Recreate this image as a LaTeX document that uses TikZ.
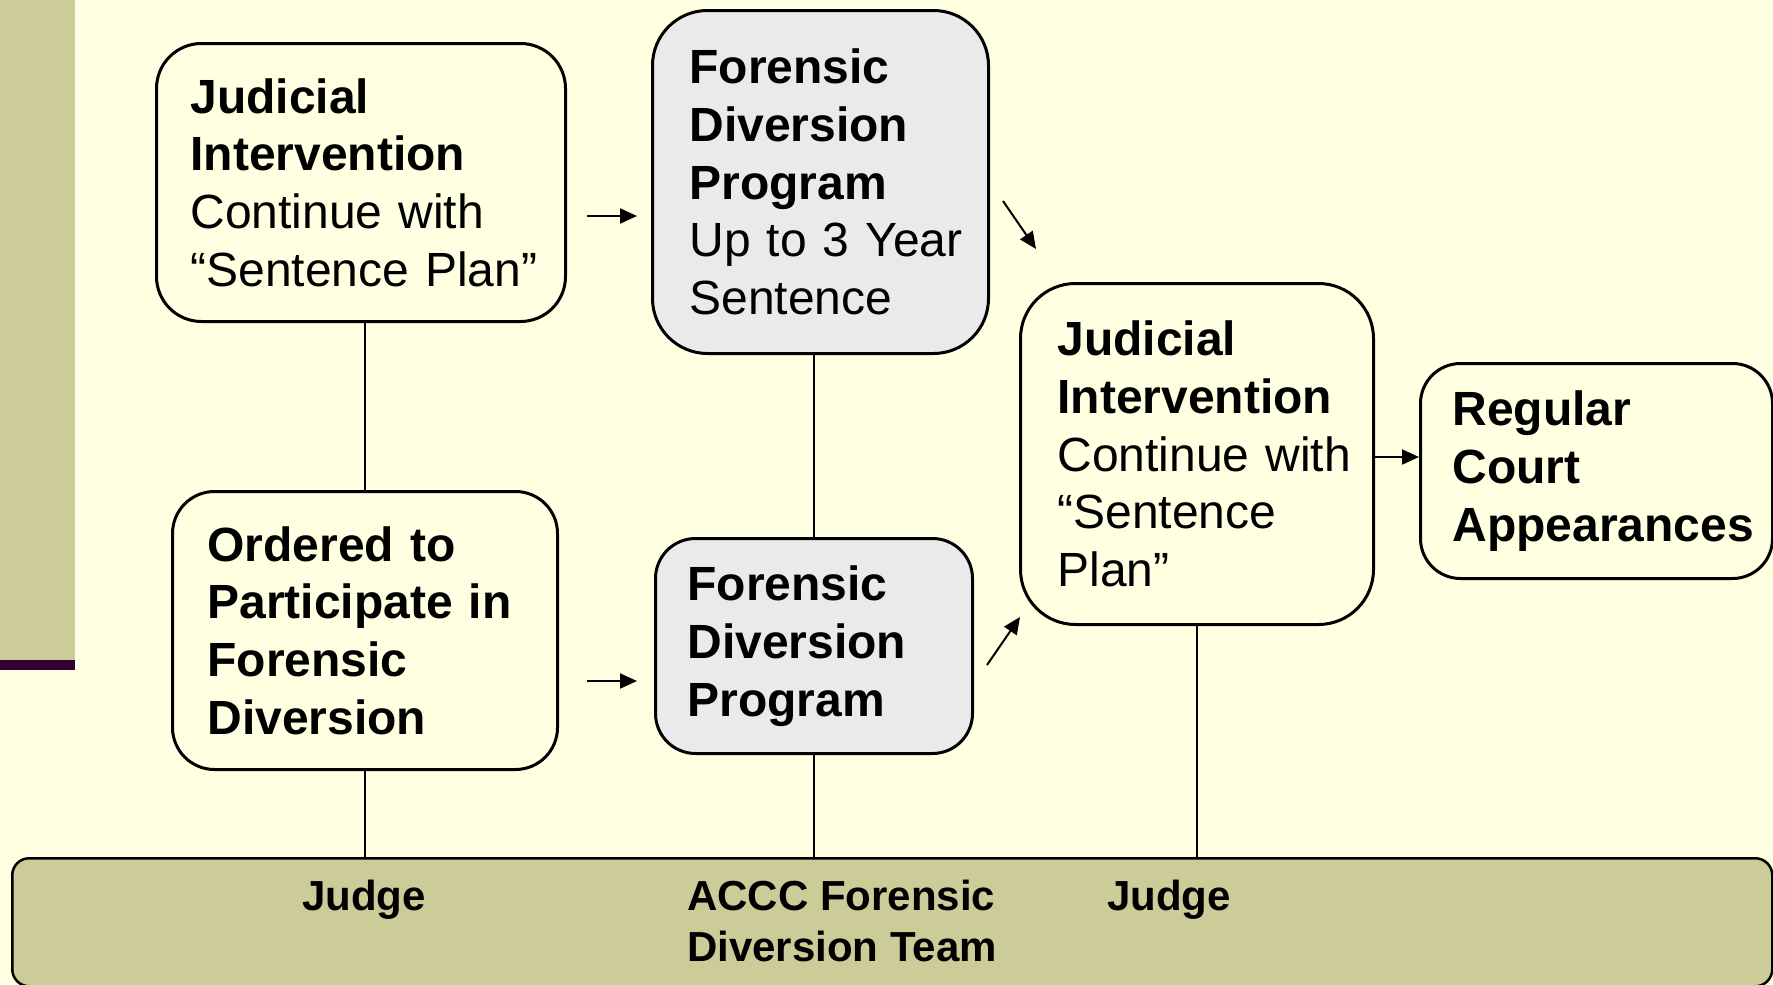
\documentclass[tikz,border=0pt]{standalone}
\usepackage{fontspec}
\setmainfont{Liberation Sans}
\usetikzlibrary{arrows.meta}
\definecolor{bgyellow}{HTML}{FFFFE1}
\definecolor{olivefill}{HTML}{CCCC99}
\definecolor{plumbar}{HTML}{330033}
\definecolor{boxgray}{HTML}{EAEAEA}
\begin{document}
\begin{tikzpicture}[x=1pt,y=-1pt,
  fbox/.style={draw=black,line width=3pt,align=left,inner ysep=0pt,anchor=north west,
    font=\fontsize{48}{57.7}\selectfont},
  conn/.style={line width=2pt},
  arr/.style={line width=2pt,-{Triangle[length=17pt,width=15pt]}},
  barlabel/.style={anchor=base west,inner sep=0pt,align=left,
    font=\fontsize{42}{51}\selectfont\bfseries}]
\useasboundingbox (0,0) rectangle (1773,985);
\fill[bgyellow] (0,0) rectangle (1773,985);
\fill[olivefill] (0,0) rectangle (75,661);
\fill[plumbar] (0,660) rectangle (75,670);

% boxes
\node[fbox,fill=bgyellow,rounded corners=45pt,inner xsep=34pt,
  minimum width=409pt,minimum height=278pt,text width=341pt] (A) at (155,42)
  {\textbf{Judicial}\\\textbf{Intervention}\\Continue~with\\“Sentence~Plan”};
\node[fbox,fill=boxgray,rounded corners=55pt,inner xsep=37pt,
  minimum width=336pt,minimum height=343pt,text width=262pt] (B) at (651,9)
  {\textbf{Forensic}\\\textbf{Diversion}\\\textbf{Program}\\Up~to~3~Year\\Sentence};
\node[fbox,fill=bgyellow,rounded corners=42pt,inner xsep=35pt,
  minimum width=385pt,minimum height=278pt,text width=315pt] (C) at (171,490)
  {\textbf{Ordered~to}\\\textbf{Participate~in}\\\textbf{Forensic}\\\textbf{Diversion}};
\node[fbox,fill=boxgray,rounded corners=40pt,inner xsep=32pt,
  minimum width=317pt,minimum height=215pt,text width=253pt] (D) at (654,537)
  {\textbf{Forensic}\\\textbf{Diversion}\\\textbf{Program}};
\node[fbox,fill=bgyellow,rounded corners=55pt,inner xsep=37pt,
  minimum width=353pt,minimum height=341pt,text width=279pt] (E) at (1019,282)
  {\textbf{Judicial}\\\textbf{Intervention}\\Continue~with\\“Sentence\\Plan”};
\node[fbox,fill=bgyellow,rounded corners=40pt,inner xsep=32pt,
  minimum width=352pt,minimum height=215pt,text width=288pt] (F) at (1419,362)
  {\textbf{Regular}\\\textbf{Court}\\\textbf{Appearances}};

% bottom bar
\node[draw=black,line width=2.5pt,fill=olivefill,rounded corners=17pt,anchor=north west,
  minimum width=1760pt,minimum height=128pt,inner sep=0pt] (bar) at (11,857) {};
\node[barlabel] (j1) at (302,910) {Judge};
\node[barlabel] (team) at (687,961) {ACCC Forensic\\Diversion Team};
\node[barlabel] (j2) at (1107,910) {Judge};

% vertical connectors
\draw[conn] (C.north) -- (C.north |- A.south);
\draw[conn] (C.south) -- (C.south |- bar.north);
\draw[conn] (D.north) -- (D.north |- B.south);
\draw[conn] (D.south) -- (D.south |- bar.north);
\draw[conn] (E.south) -- (E.south |- bar.north);

% arrows
\coordinate (ab1) at (587,216); \coordinate (ab2) at (637,216);
\coordinate (cd1) at (587,681); \coordinate (cd2) at (637,681);
\coordinate (be1) at (1003,201); \coordinate (be2) at (1036,249);
\coordinate (de1) at (987,665); \coordinate (de2) at (1020,617);
\coordinate (ef1) at (1374,457); \coordinate (ef2) at (1419,457);
\draw[arr] (ab1) -- (ab2);
\draw[arr] (cd1) -- (cd2);
\draw[arr] (be1) -- (be2);
\draw[arr] (de1) -- (de2);
\draw[arr] (ef1) -- (ef2);
\end{tikzpicture}
\end{document}
